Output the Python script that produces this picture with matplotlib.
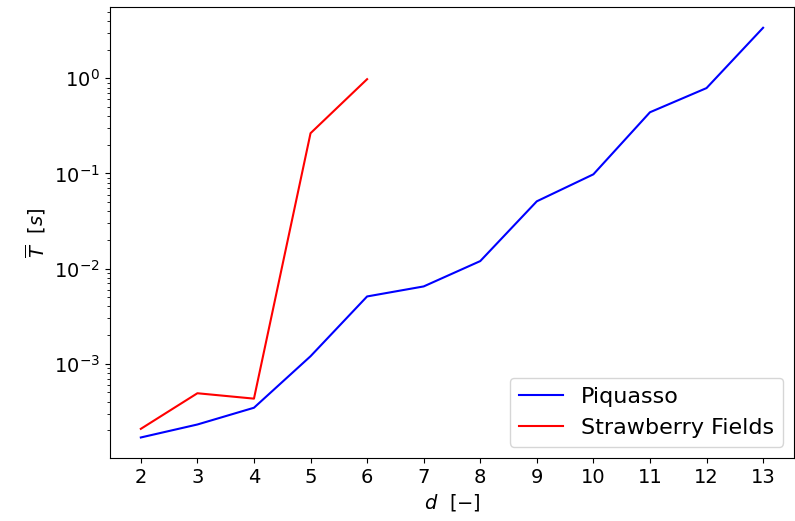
import matplotlib
matplotlib.use("Agg")
import matplotlib.pyplot as plt

# mean runtime per dimension d
d_piquasso = [2, 3, 4, 5, 6, 7, 8, 9, 10, 11, 12, 13]
t_piquasso = [1.68e-4, 2.3e-4, 3.45e-4, 1.2e-3, 5.1e-3, 6.5e-3, 1.2e-2,
              5.1e-2, 9.8e-2, 0.44, 0.79, 3.4]

d_sf = [2, 3, 4, 5, 6]
t_sf = [2.07e-4, 4.9e-4, 4.3e-4, 0.265, 0.98]

plt.rcParams['font.size'] = 14

fig, ax = plt.subplots(figsize=(7.95, 5.21), dpi=100)
fig.subplots_adjust(left=0.138, right=0.999, bottom=0.121, top=0.986)

ax.plot(d_piquasso, t_piquasso, color='blue', label='Piquasso')
ax.plot(d_sf, t_sf, color='red', label='Strawberry Fields')
ax.set_yscale('log')
ax.set_xticks(d_piquasso)

ax.set_xlabel(r'$d\ \ [-]$')
ax.set_ylabel(r'$\overline{T}\ \ [s]$')
ax.legend(loc='lower right', fontsize=16)

fig.savefig('out.png', dpi=100)
